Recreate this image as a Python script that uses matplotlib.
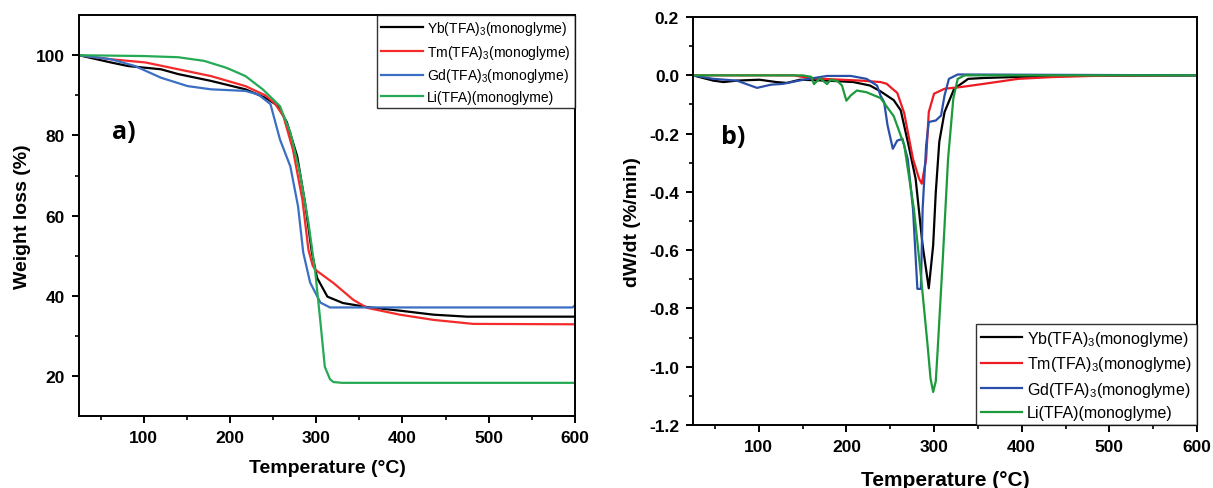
import matplotlib
matplotlib.use('Agg')
import matplotlib.pyplot as plt

plt.rcParams['font.family'] = ['Liberation Sans', 'DejaVu Sans']
plt.rcParams['mathtext.fontset'] = 'custom'
plt.rcParams['mathtext.rm'] = 'Liberation Sans'

# ---- data ----
labels = [r'Yb(TFA)$_3$(monoglyme)', r'Tm(TFA)$_3$(monoglyme)',
          r'Gd(TFA)$_3$(monoglyme)', 'Li(TFA)(monoglyme)']

# a) TGA, weight loss (%)
yb_T = [25, 62, 82, 120, 140, 178, 218, 241, 255, 266, 278, 287, 295, 301, 313, 331, 359, 397, 436, 475, 600]
yb_W = [100, 98.2, 97.3, 96.5, 95.3, 93.6, 91.5, 89.4, 87.5, 83.3, 74.8, 63.3, 50.8, 44.5, 39.8, 38.2, 37.2, 36.3, 35.3, 34.8, 34.8]

tm_T = [25, 62, 102, 140, 178, 218, 241, 252, 262, 273, 284, 291, 296, 299, 320, 343, 359, 397, 436, 482, 600]
tm_W = [100, 99, 98.2, 96.5, 94.8, 92.3, 90, 88, 84.8, 76.5, 64, 51.5, 47.5, 46.5, 43.2, 39, 37, 35.3, 34, 33, 32.9]

gd_T = [25, 62, 90, 120, 151, 178, 218, 233, 247, 258, 270, 279, 285, 293, 305, 316, 597, 600]
gd_W = [100, 99, 97.3, 94.4, 92.3, 91.5, 91.1, 90.2, 87.8, 79, 72.3, 62.3, 50.8, 43.3, 38.3, 37.1, 37.1, 37.6]

li_T = [25, 100, 140, 170, 194, 200, 218, 238, 258, 270, 281, 291, 299, 305, 310, 316, 320, 330, 600]
li_W = [100, 99.8, 99.5, 98.6, 97, 96.5, 94.8, 91.5, 87.3, 80.8, 70.8, 58.3, 45.8, 33.3, 22.3, 19.2, 18.5, 18.3, 18.3]

# b) DTG, dW/dt (%/min)
yb_T2 = [25, 48, 60, 75, 101, 120, 132, 147, 178, 208, 227, 239, 254, 262, 271, 279, 287, 294, 299, 302, 306, 312, 323, 339, 357, 400, 450, 600]
yb_D = [0, -0.018, -0.023, -0.018, -0.015, -0.023, -0.026, -0.015, -0.018, -0.023, -0.035, -0.055, -0.085, -0.12, -0.241, -0.355, -0.584, -0.731, -0.584, -0.401, -0.228, -0.126, -0.046, -0.012, -0.009, -0.005, -0.002, 0]

tm_T2 = [25, 140, 159, 216, 239, 246, 254, 258, 266, 276, 283, 286, 291, 294, 300, 312, 331, 357, 396, 434, 480, 600]
tm_D = [0, 0, -0.01, -0.018, -0.023, -0.029, -0.05, -0.06, -0.13, -0.287, -0.355, -0.372, -0.287, -0.126, -0.063, -0.046, -0.04, -0.029, -0.012, -0.006, -0.002, 0]

gd_T2 = [25, 48, 75, 98, 114, 128, 151, 178, 205, 223, 235, 239, 243, 247, 253, 258, 264, 270, 276, 281, 285, 287, 291, 294, 302, 308, 312, 317, 327, 600]
gd_D = [0, -0.012, -0.018, -0.043, -0.032, -0.029, -0.015, -0.002, -0.002, -0.012, -0.035, -0.07, -0.091, -0.172, -0.252, -0.224, -0.218, -0.287, -0.458, -0.733, -0.733, -0.458, -0.241, -0.16, -0.155, -0.138, -0.069, -0.012, 0.003, 0]

li_T2 = [25, 150, 160, 163, 170, 178, 182, 190, 195, 200, 205, 212, 223, 239, 254, 266, 277, 285, 293, 296, 299, 302, 304, 310, 316, 322, 327, 335, 600]
li_D = [0, 0, -0.005, -0.03, -0.01, -0.03, -0.015, -0.02, -0.035, -0.087, -0.069, -0.052, -0.058, -0.078, -0.14, -0.24, -0.458, -0.687, -0.938, -1.04, -1.087, -1.05, -0.95, -0.63, -0.287, -0.08, -0.012, 0, 0]

colors_a = ['#000000', '#f52a2a', '#3a6fc4', '#26a955']
colors_b = ['#000000', '#ed1c24', '#2b4fa8', '#1d9a3c']

fig = plt.figure(figsize=(12.13, 4.89), dpi=100)
ax1 = fig.add_axes([0.0651, 0.147, 0.4089, 0.820])
ax2 = fig.add_axes([0.5713, 0.129, 0.4155, 0.834])

# ---- panel a ----
for T, W, c, lab in zip([yb_T, tm_T, gd_T, li_T], [yb_W, tm_W, gd_W, li_W], colors_a, labels):
    ax1.plot(T, W, color=c, lw=1.6, label=lab)
ax1.set_xlim(25, 600)
ax1.set_ylim(10, 110)
ax1.set_xticks([100, 200, 300, 400, 500, 600])
ax1.set_xticks([50, 150, 250, 350, 450, 550], minor=True)
ax1.set_yticks([20, 40, 60, 80, 100])
ax1.set_yticks([30, 50, 70, 90], minor=True)
ax1.set_xlabel('Temperature (°C)', fontsize=14, fontweight='bold', labelpad=10)
ax1.set_ylabel('Weight loss (%)', fontsize=14, fontweight='bold', labelpad=4)
ax1.text(77, 81, 'a)', fontsize=18, fontweight='bold', family='Open Sans', ha='center', va='center')
leg1 = ax1.legend(loc='upper right', fontsize=10, frameon=True, fancybox=False,
                  edgecolor='black', borderaxespad=0, handlelength=3.0,
                  labelspacing=0.4, borderpad=0.3, handletextpad=0.3)
leg1.get_frame().set_linewidth(1.0)

# ---- panel b ----
for T, D, c, lab in zip([yb_T2, tm_T2, gd_T2, li_T2], [yb_D, tm_D, gd_D, li_D], colors_b, labels):
    ax2.plot(T, D, color=c, lw=1.6, label=lab)
ax2.set_xlim(25, 600)
ax2.set_ylim(-1.2, 0.2)
ax2.set_xticks([100, 200, 300, 400, 500, 600])
ax2.set_xticks([50, 150, 250, 350, 450, 550], minor=True)
ax2.set_yticks([-1.2, -1.0, -0.8, -0.6, -0.4, -0.2, 0.0, 0.2])
ax2.set_yticks([-1.1, -0.9, -0.7, -0.5, -0.3, -0.1, 0.1], minor=True)
ax2.set_yticklabels(['-1.2', '-1.0', '-0.8', '-0.6', '-0.4', '-0.2', '0.0', '0.2'])
ax2.set_xlabel('Temperature (°C)', fontsize=15, fontweight='bold', labelpad=12)
ax2.set_ylabel('dW/dt (%/min)', fontsize=14, fontweight='bold', labelpad=6)
ax2.text(71, -0.211, 'b)', fontsize=18, fontweight='bold', family='Open Sans', ha='center', va='center')
leg2 = ax2.legend(loc='lower right', fontsize=11.5, frameon=True, fancybox=False,
                  edgecolor='black', borderaxespad=0, handlelength=2.6,
                  labelspacing=0.4, borderpad=0.3, handletextpad=0.3)
leg2.get_frame().set_linewidth(1.0)

for ax in (ax1, ax2):
    for s in ax.spines.values():
        s.set_linewidth(1.4)
    ax.tick_params(which='major', direction='out', length=5, width=1.4, labelsize=12.5, pad=5)
    ax.tick_params(which='minor', direction='out', length=3, width=1.2)
    for t in ax.get_xticklabels() + ax.get_yticklabels():
        t.set_fontweight('bold')

fig.savefig('out.png', dpi=100)
